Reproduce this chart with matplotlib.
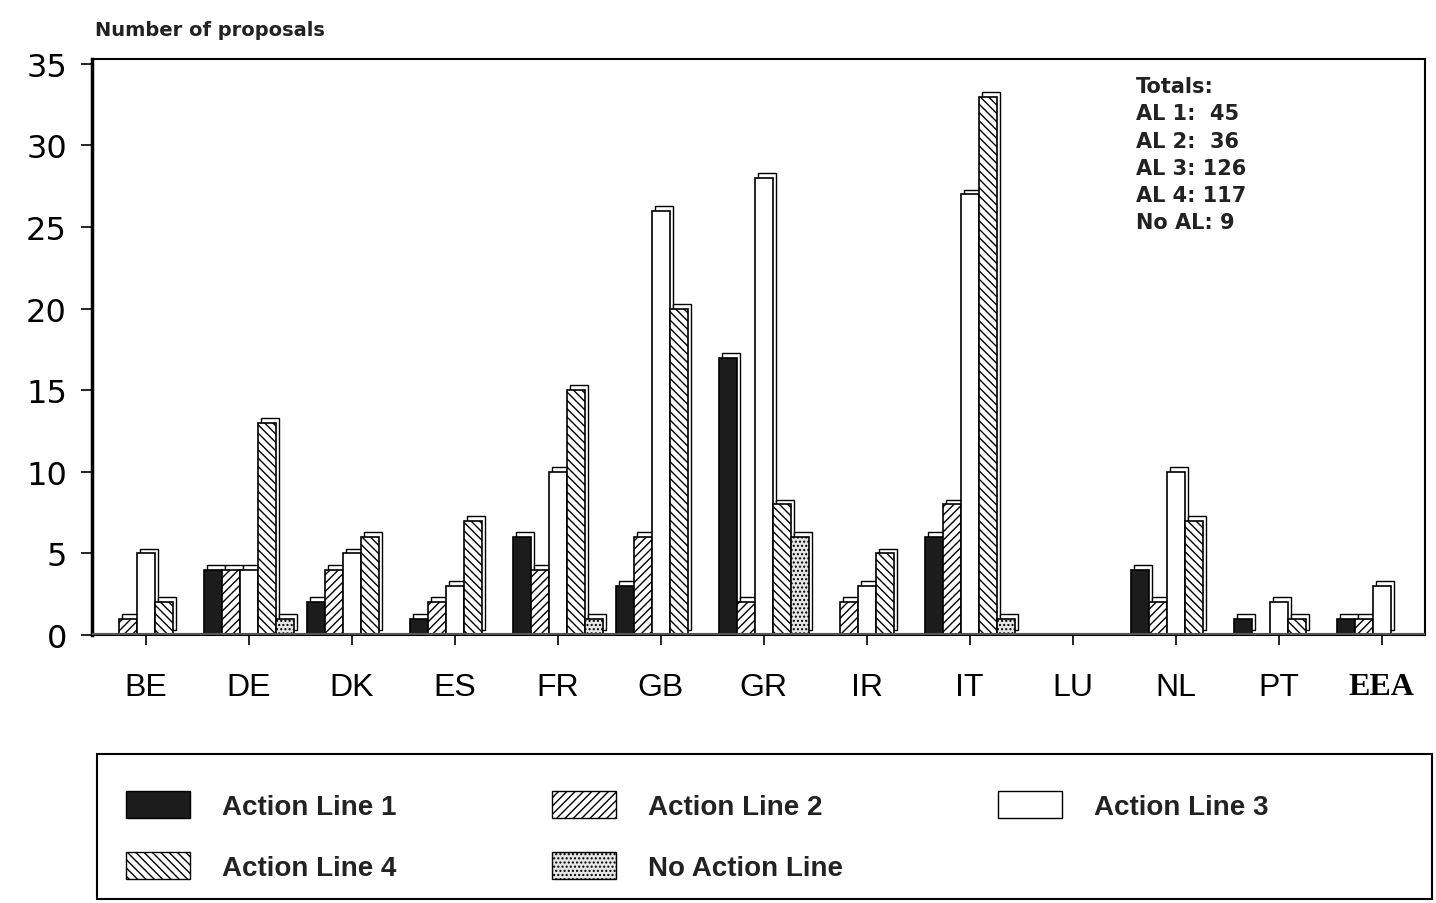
import numpy as np
import matplotlib
matplotlib.use("Agg")
import matplotlib.pyplot as plt
from matplotlib.patches import Patch, Rectangle

plt.rcParams['font.family'] = ['Liberation Sans', 'DejaVu Sans']
plt.rcParams['hatch.linewidth'] = 1.0

# data: number of proposals per country and action line
countries = ['BE', 'DE', 'DK', 'ES', 'FR', 'GB', 'GR', 'IR', 'IT', 'LU', 'NL', 'PT', 'EEA']
al1 = [0, 4, 2, 1, 6, 3, 17, 0, 6, 0, 4, 1, 1]
al2 = [1, 4, 4, 2, 4, 6, 2, 2, 8, 0, 2, 0, 1]
al3 = [5, 4, 5, 3, 10, 26, 28, 3, 27, 0, 10, 2, 3]
al4 = [2, 13, 6, 7, 15, 20, 8, 5, 33, 0, 7, 1, 0]
no_al = [0, 1, 0, 0, 1, 0, 6, 0, 1, 0, 0, 0, 0]
totals_text = "Totals:\nAL 1:  45\nAL 2:  36\nAL 3: 126\nAL 4: 117\nNo AL: 9"

series = [
    ("Action Line 1", al1, dict(color='#1c1c1c', hatch=None)),
    ("Action Line 2", al2, dict(color='white', hatch='////')),
    ("Action Line 3", al3, dict(color='white', hatch=None)),
    ("Action Line 4", al4, dict(color='white', hatch='\\\\\\\\')),
    ("No Action Line", no_al, dict(color='#e6e6e6', hatch='....')),
]

W, H = 1436, 904
fig = plt.figure(figsize=(W / 100, H / 100), dpi=100)
ax = fig.add_axes([92 / W, 1 - 636 / H, (1425 - 92) / W, (636 - 60) / H])

x = np.arange(len(countries))
w = 0.175
dx, dy = 0.035, 0.3

for i, (name, vals, st) in enumerate(series):
    pos = x + (i - 2) * w
    vals = np.array(vals, dtype=float)
    mask = vals > 0
    # pseudo 3D side/top face
    ax.bar(pos[mask] + dx, vals[mask], w, bottom=dy, color='white',
           edgecolor='black', linewidth=1.0, zorder=2)
    ax.bar(pos[mask], vals[mask], w, color=st['color'], hatch=st['hatch'],
           edgecolor='black', linewidth=1.2, zorder=3)

ax.axhline(0, color='#555555', lw=3, zorder=4)

ax.set_xlim(-0.52, 12.42)
ax.set_ylim(0, 35.3)
ax.set_yticks(range(0, 36, 5))
ax.set_xticks(x)
ax.set_xticklabels(countries)
ax.tick_params(axis='y', labelsize=23, length=8, width=1.2, pad=10)
ax.tick_params(axis='x', labelsize=23, length=7, width=1.2, pad=20)
for lab in ax.get_yticklabels():
    lab.set_family('DejaVu Sans')
ax.get_xticklabels()[-1].set_family('Liberation Serif')
ax.get_xticklabels()[-1].set_weight('bold')
for sp in ax.spines.values():
    sp.set_linewidth(1.5)
ax.spines['left'].set_linewidth(2.5)

fig.text(95 / W, 1 - 31 / H, "Number of proposals", fontsize=14, family='DejaVu Sans',
         fontweight='bold', va='center', ha='left', color='#222222')
ax.text(0.783, 0.97, totals_text, transform=ax.transAxes, fontsize=15,
        family='DejaVu Sans', fontweight='bold', va='top', ha='left',
        linespacing=1.45, color='#222222')

# legend box
fig.patches.append(Rectangle((97 / W, 1 - 900 / H), (1432 - 97) / W, (900 - 755) / H,
                             transform=fig.transFigure, fill=False,
                             edgecolor='black', linewidth=1.5))
handles = [Patch(facecolor=st['color'], hatch=st['hatch'], edgecolor='black',
                 label=name) for name, _, st in series]
order = [0, 3, 1, 4, 2]
leg = fig.legend([handles[k] for k in order], [series[k][0] for k in order],
                 ncol=3, loc='upper left',
                 bbox_to_anchor=(126 / W, 1 - 792 / H),
                 fontsize=20, handlelength=2.3, handleheight=1.1,
                 handletextpad=1.15, labelspacing=1.16, columnspacing=5.6,
                 borderpad=0.0, frameon=False, borderaxespad=0.0)
for t in leg.get_texts():
    t.set_fontweight('bold')
    t.set_color('#222222')

fig.savefig('out.png', dpi=100)
